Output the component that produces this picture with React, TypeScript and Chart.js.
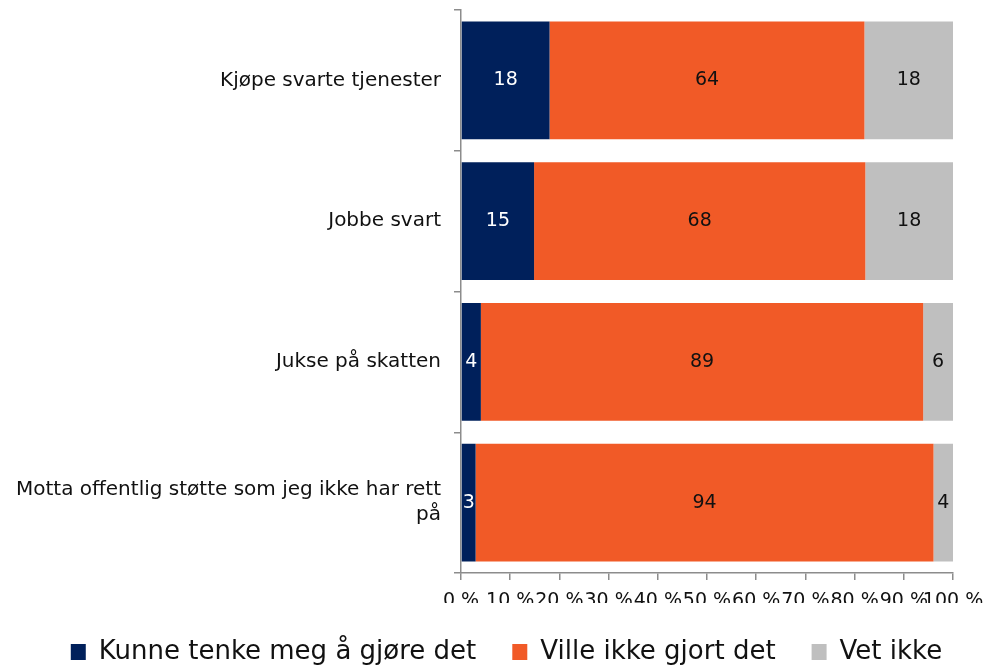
import React, { useEffect, useRef } from "react";
import { Chart, registerables } from "chart.js";

Chart.register(...registerables);

const categories: (string | string[])[] = [
  "Kjøpe svarte tjenester",
  "Jobbe svart",
  "Jukse på skatten",
  ["Motta offentlig støtte som jeg ikke har rett", "på"],
];
const seriesNames = ["Kunne tenke meg å gjøre det", "Ville ikke gjort det", "Vet ikke"];
const kunne = [18, 15, 4, 3];
const ville = [64, 68, 89, 94];
const vetIkke = [18, 18, 6, 4];
const xTicks = [0, 10, 20, 30, 40, 50, 60, 70, 80, 90, 100];
const colors = ["#00205B", "#F15A27", "#BFBFBF"];

const FONT = "'DejaVu Sans', sans-serif";
const LEGEND_SHIFT = 30;

export default function App() {
  const ref = useRef<HTMLCanvasElement | null>(null);
  useEffect(() => {
    if (!ref.current) return;
    const raw = [kunne, ville, vetIkke];
    const totals = categories.map((_, i) => raw.reduce((s, a) => s + a[i], 0));
    const pct = raw.map((arr) => arr.map((v, i) => (v / totals[i]) * 100));

    const labelPlugin = {
      id: "barLabels",
      afterLayout(chart: any) {
        if (chart.legend) {
          chart.legend.left += LEGEND_SHIFT;
          chart.legend.right += LEGEND_SHIFT;
        }
      },
      afterDatasetsDraw(chart: any) {
        const ctx = chart.ctx;
        ctx.save();
        ctx.font = `19px ${FONT}`;
        ctx.textAlign = "center";
        ctx.textBaseline = "middle";
        chart.data.datasets.forEach((ds: any, di: number) => {
          const meta = chart.getDatasetMeta(di);
          meta.data.forEach((bar: any, i: number) => {
            const { x, base, y } = bar.getProps(["x", "base", "y"], true);
            ctx.fillStyle = di === 0 ? "#ffffff" : "#111111";
            ctx.fillText(String(raw[di][i]), (x + base) / 2, y);
          });
        });
        ctx.restore();
      },
    };

    const chart = new Chart(ref.current, {
      type: "bar",
      data: {
        labels: categories,
        datasets: seriesNames.map((name, di) => ({
          label: name,
          data: pct[di],
          backgroundColor: colors[di],
          borderWidth: 0,
          barPercentage: 0.835,
          categoryPercentage: 1,
        })),
      },
      options: {
        indexAxis: "y",
        animation: false,
        responsive: false,
        maintainAspectRatio: false,
        layout: { padding: { top: 10, right: 31, left: 0, bottom: -10 } },
        plugins: {
          legend: {
            position: "bottom",
            labels: {
              font: { family: FONT, size: 26 },
              color: "#111111",
              boxWidth: 15,
              boxHeight: 16,
              padding: 36,
            },
          },
          tooltip: { enabled: false },
        },
        scales: {
          x: {
            stacked: true,
            min: 0,
            max: 100,
            afterBuildTicks: (scale: any) => {
              scale.ticks = xTicks.map((v) => ({ value: v }));
            },
            afterFit: (scale: any) => {
              scale.height = 30;
              scale.paddingLeft = 0;
              scale.paddingRight = 0;
            },
            ticks: {
              autoSkip: false,
              maxRotation: 0,
              minRotation: 0,
              padding: 10,
              font: { family: FONT, size: 19 },
              color: "#111111",
              callback: (v: any) => `${v} %`,
            },
            grid: { drawOnChartArea: false, tickLength: 7, color: "#8c8c8c", lineWidth: 1.5 },
            border: { color: "#8c8c8c", width: 1.5 },
          },
          y: {
            stacked: true,
            afterFit: (scale: any) => {
              scale.width = 461;
              scale.paddingTop = 0;
              scale.paddingBottom = 0;
            },
            ticks: {
              padding: 13,
              font: { family: FONT, size: 20, lineHeight: 1.25 },
              color: "#111111",
            },
            grid: { offset: true, drawOnChartArea: false, tickLength: 7, color: "#8c8c8c", lineWidth: 1.5 },
            border: { color: "#8c8c8c", width: 1.5 },
          },
        },
      },
      plugins: [labelPlugin],
    });
    return () => chart.destroy();
  }, []);
  return (
    <div style={{ position: "absolute", left: 0, top: 0, width: 984, height: 665 }}>
      <canvas ref={ref} width={984} height={665} style={{ width: 984, height: 665 }} />
    </div>
  );
}
